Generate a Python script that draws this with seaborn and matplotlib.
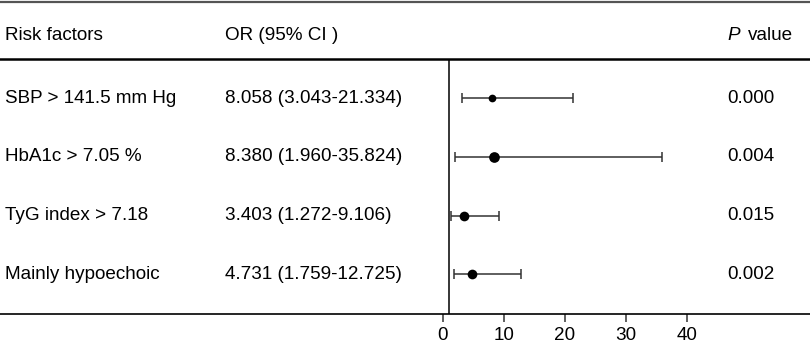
import matplotlib.pyplot as plt
import seaborn as sns
import pandas as pd
from matplotlib.lines import Line2D

# datos
factores = ['SBP > 141.5 mm Hg', 'HbA1c > 7.05 %', 'TyG index > 7.18', 'Mainly hypoechoic']
or_valor = [8.058, 8.380, 3.403, 4.731]
ic_bajo = [3.043, 1.960, 1.272, 1.759]
ic_alto = [21.334, 35.824, 9.106, 12.725]
p_valor = ['0.000', '0.004', '0.015', '0.002']
peso = [7, 10, 9, 9]  # diámetro aproximado del punto (px)
ticks_x = [0, 10, 20, 30, 40]

sns.set_theme(style='white')
plt.rcParams['font.family'] = ['Liberation Sans', 'DejaVu Sans']
plt.rcParams['text.color'] = 'black'

W, H = 810, 346
fig = plt.figure(figsize=(W / 100, H / 100), dpi=100)

# eje principal: ancho completo, x escalado para que 0 -> 443 px y 10 -> 504 px
px_unidad = 6.1
x0 = 443
ax = fig.add_axes([0, 32 / H, 1, (314 - 59) / H])
ax.set_xlim(-x0 / px_unidad, (W - x0) / px_unidad)
ax.set_ylim(3.68, -0.67)

df = pd.DataFrame({'factor': factores, 'or': or_valor, 'lo': ic_bajo, 'hi': ic_alto,
                   'fila': range(len(factores)), 'peso': peso})

ax.axvline(1, color='black', linewidth=1.1, zorder=1)
ax.errorbar(df['or'], df['fila'],
            xerr=[df['or'] - df['lo'], df['hi'] - df['or']],
            fmt='none', ecolor='#333333', elinewidth=1.1, capsize=3.8, capthick=1.1, zorder=2)
for _, r in df.iterrows():
    ax.plot(r['or'], r['fila'], 'o', color='black', markersize=r['peso'] * 0.72 + 0.5,
            markeredgewidth=0, zorder=3)

# textos de cada fila
fs = 13.6
for _, r in df.iterrows():
    ax.text(5 / W, r['fila'], r['factor'], transform=ax.get_yaxis_transform(),
            ha='left', va='center', fontsize=fs, color='black')
    ax.text(225 / W, r['fila'], f"{r['or']:.3f} ({r['lo']:.3f}-{r['hi']:.3f})",
            transform=ax.get_yaxis_transform(), ha='left', va='center', fontsize=fs, color='black')
    ax.text(727 / W, r['fila'], p_valor[int(r['fila'])], transform=ax.get_yaxis_transform(),
            ha='left', va='center', fontsize=fs, color='black')

# ejes y marcas
for lado in ['left', 'right']:
    ax.spines[lado].set_visible(False)
ax.spines['bottom'].set_color('black')
ax.spines['bottom'].set_linewidth(1.2)
ax.spines['top'].set_color('black')
ax.spines['top'].set_linewidth(1.8)
ax.set_yticks([])
ax.set_xticks(ticks_x)
ax.set_xticklabels([str(t) for t in ticks_x], fontsize=fs, color='black')
ax.tick_params(axis='x', direction='out', length=6, width=1.1, color='#333333', bottom=True, pad=3)

# encabezado
yh = 1 - 35 / H
fig.text(5 / W, yh, 'Risk factors', ha='left', va='center', fontsize=fs, color='black')
fig.text(225 / W, yh, 'OR (95% CI )', ha='left', va='center', fontsize=fs, color='black')
fig.text(793 / W, yh, 'value', ha='right', va='center', fontsize=fs, color='black')
fig.text(727 / W, yh, 'P', ha='left', va='center', fontsize=fs, style='italic', color='black')
fig.add_artist(Line2D([0, 1], [1 - 2 / H, 1 - 2 / H], transform=fig.transFigure,
                      color='#555555', linewidth=1.6))

fig.savefig('out.png', dpi=100)
